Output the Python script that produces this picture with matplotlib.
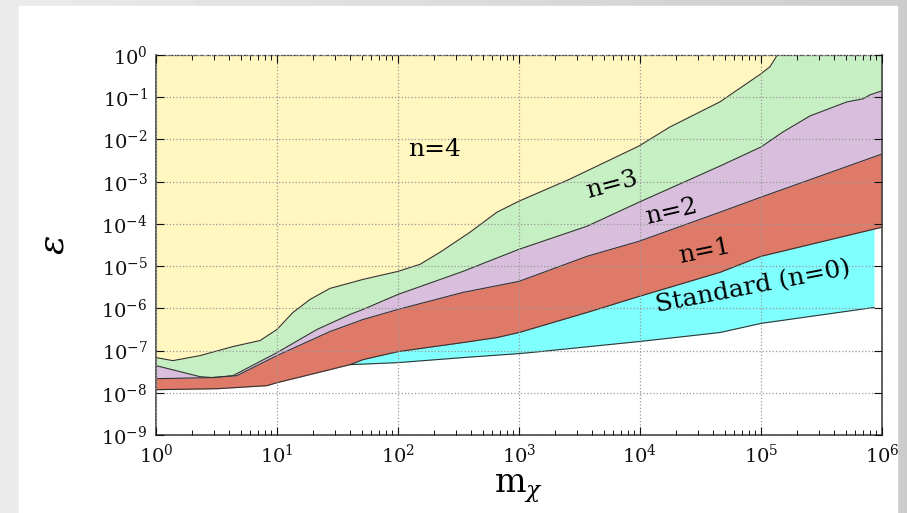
import numpy as np
import matplotlib
matplotlib.use("Agg")
import matplotlib.pyplot as plt
from matplotlib.ticker import LogLocator, NullLocator, LogFormatterMathtext

plt.rcParams['font.family'] = ['DejaVu Serif']
plt.rcParams['mathtext.fontset'] = 'dejavuserif'

# boundaries, as log10(m_chi) and log10(epsilon)
n4_logm = [0.0, 0.14, 0.364, 0.636, 0.860, 1.0, 1.132, 1.273, 1.438, 1.711, 2.0, 2.182,
           2.347, 2.595, 2.818, 3.0, 3.421, 3.992, 4.248, 4.661, 5.0, 5.074, 5.116, 5.140]
n4_logeps = [-7.166, -7.238, -7.119, -6.905, -6.762, -6.499, -6.097, -5.789, -5.527, -5.314,
             -5.124, -4.957, -4.672, -4.197, -3.722, -3.461, -2.938, -2.154, -1.703, -1.109,
             -0.444, -0.278, -0.088, 0.03]

n3_logm = [0.0, 0.364, 0.471, 0.636, 1.0, 1.331, 1.603, 1.711, 2.0, 2.537, 3.0, 3.562,
           3.992, 4.661, 5.0, 5.182, 5.405, 5.711, 5.843, 5.901, 6.0]
n3_logeps = [-7.356, -7.618, -7.641, -7.594, -7.048, -6.499, -6.144, -6.025, -5.670, -5.124,
             -4.601, -4.055, -3.485, -2.629, -2.178, -1.822, -1.442, -1.109, -1.038, -0.943,
             -0.848]

n2_logm = [0.0, 0.446, 0.669, 1.0, 1.438, 1.711, 2.0, 2.537, 3.0, 3.562, 3.992, 4.661, 5.0, 6.0]
n2_logeps = [-7.665, -7.641, -7.594, -7.119, -6.549, -6.264, -6.025, -5.622, -5.361, -4.767,
             -4.411, -3.722, -3.366, -2.344]

n1_logm = [0.0, 0.504, 0.917, 1.0, 1.438, 1.603, 1.711, 2.0, 2.537, 2.818, 3.0, 3.562,
           3.992, 4.661, 5.0, 6.0]
n1_logeps = [-7.926, -7.903, -7.831, -7.760, -7.451, -7.333, -7.214, -7.024, -6.810, -6.691,
             -6.572, -6.097, -5.717, -5.147, -4.767, -4.078]

n0_logm = [1.603, 2.0, 2.537, 3.0, 3.091, 3.992, 4.661, 5.0, 5.934]
n0_logeps = [-7.333, -7.285, -7.166, -7.071, -7.048, -6.786, -6.572, -6.356, -5.979]

labels = ['n=4', 'n=3', 'n=2', 'n=1', 'Standard (n=0)']
label_logm = [2.306, 3.769, 4.256, 4.537, 4.934]
label_logeps = [-2.226, -3.081, -3.70, -4.65, -5.50]
label_rot = [0, 15, 13, 11.5, 11]

colors = {'n4': '#fff7bf', 'n3': '#c6f0c3', 'n2': '#d9bfdd', 'n1': '#e07a68', 'n0': '#80ffff'}

fig = plt.figure(figsize=(9.07, 5.13), dpi=100)

# grey slide background with white panel
bg = fig.add_axes([0, 0, 1, 1], zorder=-10)
grad = np.linspace(0.92, 0.80, 256).reshape(1, -1)
bg.imshow(grad, aspect='auto', cmap='gray', vmin=0, vmax=1, extent=[0, 1, 0, 1])
bg.add_patch(plt.Rectangle((19 / 907, 0), 878 / 907, 1 - 6 / 513, color='white', zorder=2))
bg.set_xlim(0, 1)
bg.set_ylim(0, 1)
bg.axis('off')

ax = fig.add_axes([0.172, 0.152, 0.8004, 0.7407])
ax.set_xscale('log')
ax.set_yscale('log')

regions = [
    (n0_logm, n0_logeps, colors['n0']),
    (n1_logm, n1_logeps, colors['n1']),
    (n2_logm, n2_logeps, colors['n2']),
    (n3_logm, n3_logeps, colors['n3']),
    (n4_logm, n4_logeps, colors['n4']),
]
for lm, le, c in regions:
    m = 10 ** np.array(lm)
    e = 10 ** np.array(le)
    ax.fill_between(m, e, 1.0, color=c, lw=0, zorder=1)
    ax.plot(m, e, color='#333333', lw=0.8, zorder=2)

for t, lm, le, r in zip(labels, label_logm, label_logeps, label_rot):
    ax.text(10 ** lm, 10 ** le, t, fontsize=18, ha='center', va='center',
            rotation=r, rotation_mode='anchor', zorder=5)

ax.set_xlim(1, 1e6)
ax.set_ylim(1e-9, 1)
ax.xaxis.set_major_locator(LogLocator(base=10, numticks=10))
ax.xaxis.set_minor_locator(LogLocator(base=10, subs=np.arange(2, 10), numticks=10))
ax.yaxis.set_major_locator(LogLocator(base=10, numticks=12))
ax.yaxis.set_minor_locator(NullLocator())
ax.xaxis.set_major_formatter(LogFormatterMathtext())
ax.yaxis.set_major_formatter(LogFormatterMathtext())

ax.set_axisbelow(False)
ax.grid(True, which='major', color='#999999', linestyle=':', lw=0.9)
ax.tick_params(which='both', direction='in', top=True, right=True, labelsize=14, colors='#111111')
ax.tick_params(which='major', length=6, width=0.8, pad=6)
ax.tick_params(which='minor', length=3.5, width=0.7)
for s in ax.spines.values():
    s.set_color('#444444')
    s.set_linewidth(1.2)
ax.spines['top'].set_linestyle((0, (3, 2)))
ax.spines['top'].set_linewidth(0.9)

ax.set_ylabel(r'$\epsilon$', fontsize=26, labelpad=22)
ax.set_xlabel(r'$\mathregular{m}_\chi$', fontsize=24, labelpad=4)

fig.savefig('out.png', dpi=100)
